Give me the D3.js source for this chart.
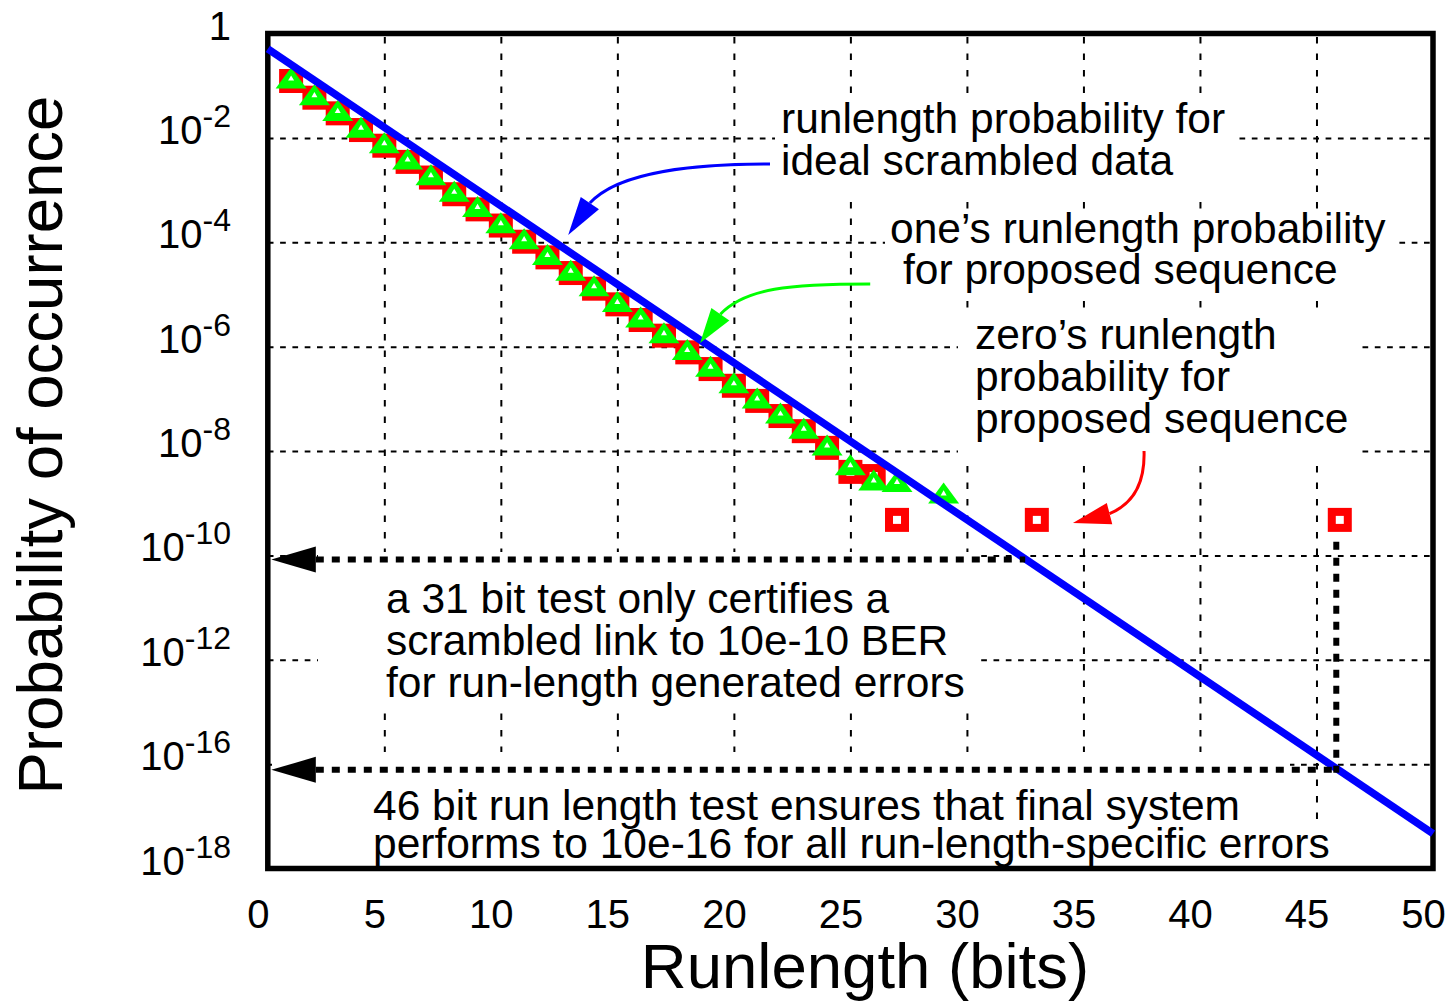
<!DOCTYPE html>
<html>
<head>
<meta charset="utf-8">
<title>Runlength probability</title>
<script src="https://cdn.jsdelivr.net/npm/d3@7"></script>
<style type="text/css">
	html, body{
		margin:0;
		background:#fff;
	}
	svg{
		display:block;
		font-family:"Liberation Sans", Arial, sans-serif;
	}
</style>
</head>
<body>
<svg id="chart" width="1451" height="1006"></svg>
<script type="text/javascript">
// values; y values are log10(probability) in the chart's own (equally spaced) tick units
var xTicks = [0, 5, 10, 15, 20, 25, 30, 35, 40, 45, 50];
var yTickPos = [0, -2, -4, -6, -8, -10, -12, -14, -16];
var yTickExp = [0, -2, -4, -6, -8, -10, -12, -16, -18];   // printed labels (10^-14 is skipped in the original)

var idealRun = [0, 50];
var idealLog = [-0.295, -15.33];

var onesRun = [1,2,3,4,5,6,7,8,9,10,11,12,13,14,15,16,17,18,19,20,21,22,23,24,25,26,27,29];
var onesLog = [-0.86,-1.18,-1.48,-1.80,-2.10,-2.41,-2.71,-3.03,-3.32,-3.63,-3.94,-4.24,-4.54,-4.84,
	-5.14,-5.44,-5.74,-6.06,-6.38,-6.70,-6.99,-7.28,-7.57,-7.89,-8.27,-8.56,-8.59,-8.81];

var zerosRun = [1,2,3,4,5,6,7,8,9,10,11,12,13,14,15,16,17,18,19,20,21,22,23,24,25,26,27,33,46];
var zerosLog = [-0.91,-1.23,-1.53,-1.85,-2.15,-2.46,-2.76,-3.08,-3.37,-3.68,-3.99,-4.29,-4.59,-4.89,
	-5.19,-5.49,-5.79,-6.11,-6.43,-6.75,-7.04,-7.33,-7.62,-7.94,-8.40,-8.48,-9.32,-9.32,-9.32];

// BER certification guides: [runlength, log level]
var test31 = [32.5, -10.08];
var test46 = [45.85, -14.11];

var svg = d3.select("#chart");
var x = d3.scaleLinear().domain([0, 50]).range([267.8, 1433]);
var y = d3.scaleLinear().domain([0, -16]).range([33.5, 868.5]);
var plotL = x(0), plotR = x(50), plotT = y(0), plotB = y(-16);

svg.append("rect").attr("width", 1451).attr("height", 1006).attr("fill", "#fff");

/* grid */
svg.append("g")
	.attr("transform", "translate(0," + plotB + ")")
	.call(d3.axisBottom(x).tickValues(xTicks.slice(1, -1)).tickSize(-(plotB - plotT)).tickFormat(""))
	.call(function(g){ g.select(".domain").remove(); })
	.selectAll("line")
	.attr("stroke", "#000").attr("stroke-width", 2).attr("stroke-dasharray", "6.5,10");

svg.append("g")
	.attr("transform", "translate(" + plotL + ",0)")
	.call(d3.axisLeft(y).tickValues(yTickPos.slice(1, -1)).tickSize(-(plotR - plotL)).tickFormat(""))
	.call(function(g){ g.select(".domain").remove(); })
	.selectAll("line")
	.attr("stroke", "#000").attr("stroke-width", 2).attr("stroke-dasharray", "5.7,6.6");

/* annotation text, each on a white box that hides the grid */
var notes = [
	{box:[775, 95, 1238, 200], x:781, lines:[["runlength probability for", 133], ["ideal scrambled data", 175]]},
	{box:[885, 212, 1395, 300], x:890, lines:[["one\u2019s runlength probability", 243], ["for proposed sequence", 284, 903]]},
	{box:[958, 308, 1358, 456], x:975, lines:[["zero\u2019s runlength", 349], ["probability for", 391], ["proposed sequence", 433]]},
	{box:[318, 552, 975, 708], x:386, lines:[["a 31 bit test only certifies a", 613], ["scrambled link to 10e-10 BER", 655], ["for run-length generated errors", 697]]},
	{box:[272, 752, 1290, 826], x:373, lines:[["46 bit run length test ensures that final system", 820]]},
	{box:[272, 826, 1340, 866], x:373, lines:[["performs to 10e-16 for all run-length-specific errors", 858]]}
];

svg.append("g").selectAll("rect").data(notes).join("rect")
	.attr("x", function(d){ return d.box[0]; })
	.attr("y", function(d){ return d.box[1]; })
	.attr("width", function(d){ return d.box[2] - d.box[0]; })
	.attr("height", function(d){ return d.box[3] - d.box[1]; })
	.attr("fill", "#fff");

/* frame */
svg.append("rect")
	.attr("x", plotL).attr("y", plotT)
	.attr("width", plotR - plotL).attr("height", plotB - plotT)
	.attr("fill", "none").attr("stroke", "#000").attr("stroke-width", 5.5);

/* zeros: red hollow squares */
var zg = svg.append("g").selectAll("g").data(d3.zip(zerosRun, zerosLog)).join("g")
	.attr("transform", function(d){ return "translate(" + x(d[0]) + "," + y(d[1]) + ")"; });
zg.append("rect").attr("x", -12).attr("y", -12).attr("width", 24).attr("height", 24).attr("fill", "#ff0000");
zg.append("rect").attr("x", -4).attr("y", -4).attr("width", 8).attr("height", 8).attr("fill", "#fff");

/* ones: green hollow triangles */
var og = svg.append("g").selectAll("g").data(d3.zip(onesRun, onesLog)).join("g")
	.attr("transform", function(d){ return "translate(" + x(d[0]) + "," + y(d[1]) + ")"; });
og.append("path").attr("d", "M0,-10.8L15.5,10.2L-15.5,10.2Z").attr("fill", "#00ff00");
og.append("path").attr("d", "M0,-3L3,2.2L-3,2.2Z").attr("fill", "#fff");

/* ideal line */
svg.append("path")
	.datum(d3.zip(idealRun, idealLog))
	.attr("d", d3.line().x(function(d){ return x(d[0]); }).y(function(d){ return y(d[1]); }))
	.attr("fill", "none").attr("stroke", "#0000ff").attr("stroke-width", 7.5);

/* dotted guides with arrowheads at the axis */
function guide(level, endRun){
	svg.append("line")
		.attr("x1", plotL + 32).attr("x2", x(endRun))
		.attr("y1", y(level)).attr("y2", y(level))
		.attr("stroke", "#000").attr("stroke-width", 6).attr("stroke-dasharray", "8,8");
	var yy = y(level);
	svg.append("path")
		.attr("d", "M" + (plotL + 3.5) + "," + yy + "L" + (plotL + 48) + "," + (yy - 13) + "L" + (plotL + 48) + "," + (yy + 13) + "Z")
		.attr("fill", "#000");
}
guide(test31[1], test31[0]);
guide(test46[1], test46[0]);
svg.append("line")
	.attr("x1", x(test46[0])).attr("x2", x(test46[0]))
	.attr("y1", y(-9.74)).attr("y2", y(test46[1]) + 3)
	.attr("stroke", "#000").attr("stroke-width", 6).attr("stroke-dasharray", "8,8");

/* curved pointer arrows: start, c1, c2, head base, tip (runlength, log level) */
var arrows = [
	{color:"#0000ff", pts:[[21.55,-2.50],[18.5,-2.50],[15.1,-2.62],[13.82,-3.25],[12.89,-3.86]]},
	{color:"#00ff00", pts:[[25.85,-4.80],[22.41,-4.80],[20.48,-4.88],[19.42,-5.38],[18.55,-5.93]]},
	{color:"#ff0000", pts:[[37.60,-8.00],[37.64,-8.56],[37.22,-9.00],[36.12,-9.20],[34.55,-9.38]]}
];
arrows.forEach(function(a){
	var p = a.pts.map(function(d){ return [x(d[0]), y(d[1])]; });
	svg.append("path")
		.attr("d", "M" + p[0] + "C" + p[1] + " " + p[2] + " " + p[3])
		.attr("fill", "none").attr("stroke", a.color).attr("stroke-width", 3);
	var dx = p[4][0] - p[3][0], dy = p[4][1] - p[3][1];
	var len = Math.sqrt(dx * dx + dy * dy);
	var nx = -dy / len * 11, ny = dx / len * 11;
	svg.append("path")
		.attr("d", "M" + p[4] + "L" + [p[3][0] + nx, p[3][1] + ny] + "L" + [p[3][0] - nx, p[3][1] - ny] + "Z")
		.attr("fill", a.color);
});

/* note text */
var nt = svg.append("g").attr("font-size", 42.5).attr("fill", "#000");
notes.forEach(function(n){
	n.lines.forEach(function(l){
		nt.append("text").attr("x", l[2] || n.x).attr("y", l[1]).text(l[0]);
	});
});

/* x tick labels */
svg.append("g")
	.attr("transform", "translate(0," + plotB + ")")
	.call(d3.axisBottom(x).tickValues(xTicks).tickSize(0))
	.call(function(g){ g.select(".domain").remove(); })
	.attr("font-size", 40).attr("font-family", null)
	.selectAll("text")
	.attr("y", 59.5).attr("dy", null).attr("dx", -10);

/* y tick labels with superscript exponents */
var yAxis = svg.append("g")
	.attr("transform", "translate(" + plotL + ",0)")
	.call(d3.axisLeft(y).tickValues(yTickPos).tickSize(0).tickFormat(""))
	.call(function(g){ g.select(".domain").remove(); })
	.attr("font-size", 40).attr("font-family", null);
yAxis.selectAll(".tick text").remove();
yAxis.selectAll(".tick").each(function(d, i){
	var e = yTickExp[i];
	var t = d3.select(this).append("text")
		.attr("x", -36.8).attr("y", 5.5)
		.attr("fill", "#000").attr("text-anchor", "end");
	if (e === 0) {
		t.text("1");
	} else {
		t.append("tspan").text("10");
		t.append("tspan").attr("dy", -17).attr("font-size", 32).text(e);
	}
});

/* axis titles */
svg.append("text")
	.attr("x", 865).attr("y", 988)
	.attr("text-anchor", "middle").attr("font-size", 63.5)
	.text("Runlength (bits)");
svg.append("text")
	.attr("transform", "translate(62,445) rotate(-90)")
	.attr("text-anchor", "middle").attr("font-size", 63.5)
	.text("Probability of occurrence");
</script>
</body>
</html>
